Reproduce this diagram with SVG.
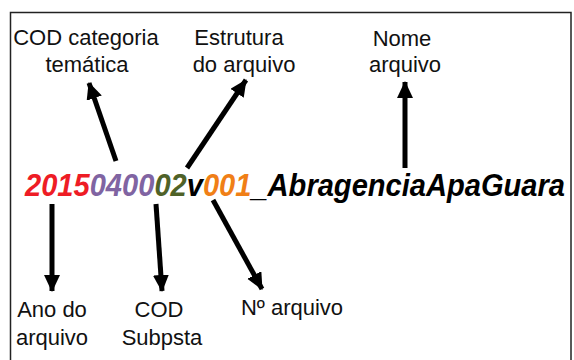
<svg xmlns="http://www.w3.org/2000/svg" width="574" height="360" viewBox="0 0 574 360">
<style>
.lbl{font-family:"Liberation Sans",Arial,sans-serif;font-size:22px;fill:#111;text-anchor:middle}
.main{font-family:"Liberation Sans",Arial,sans-serif;font-size:32px;font-weight:bold;font-style:italic;fill:#000}
.arr{stroke:#000;stroke-width:5;fill:none;marker-end:url(#ah)}
</style>
<defs>
<marker id="ah" markerUnits="userSpaceOnUse" markerWidth="20" markerHeight="20" refX="16" refY="8" orient="auto">
<polygon points="0,0 17,8 0,16" fill="#000"/>
</marker>
</defs>
<rect x="0" y="0" width="574" height="360" fill="#fff"/>
<rect x="10.5" y="12.5" width="560.5" height="360" fill="none" stroke="#222" stroke-width="1.5"/>
<g id="filename">
<text class="main" x="25" y="196" textLength="540" lengthAdjust="spacingAndGlyphs"><tspan fill="#ee1c25">2015</tspan><tspan fill="#8064a2">0400</tspan><tspan fill="#4f6228">02</tspan><tspan fill="#000">v</tspan><tspan fill="#f07f17">001</tspan><tspan fill="#000">_AbragenciaApaGuara</tspan></text>
</g>
<g id="lbl-cod-categoria">
<text class="lbl" x="86" y="45">COD categoria</text>
<text class="lbl" x="87" y="72">temática</text>
</g>
<g id="lbl-estrutura">
<text class="lbl" x="239" y="45">Estrutura</text>
<text class="lbl" x="244" y="72">do arquivo</text>
</g>
<g id="lbl-nome">
<text class="lbl" x="402" y="46">Nome</text>
<text class="lbl" x="405" y="72">arquivo</text>
</g>
<g id="lbl-ano">
<text class="lbl" x="52" y="317">Ano do</text>
<text class="lbl" x="52" y="345">arquivo</text>
</g>
<g id="lbl-subpsta">
<text class="lbl" x="159" y="317">COD</text>
<text class="lbl" x="162" y="345">Subpsta</text>
</g>
<g id="lbl-num">
<text class="lbl" x="292" y="315">Nº arquivo</text>
</g>
<g id="connectors">
<line class="arr" x1="116" y1="161" x2="89" y2="83"/>
<line class="arr" x1="187" y1="168" x2="246" y2="80"/>
<line class="arr" x1="405" y1="168" x2="405" y2="82"/>
<line class="arr" x1="52" y1="204" x2="52" y2="291"/>
<line class="arr" x1="156" y1="204" x2="162" y2="291"/>
<line class="arr" x1="213" y1="200" x2="262" y2="289"/>
</g>
</svg>
